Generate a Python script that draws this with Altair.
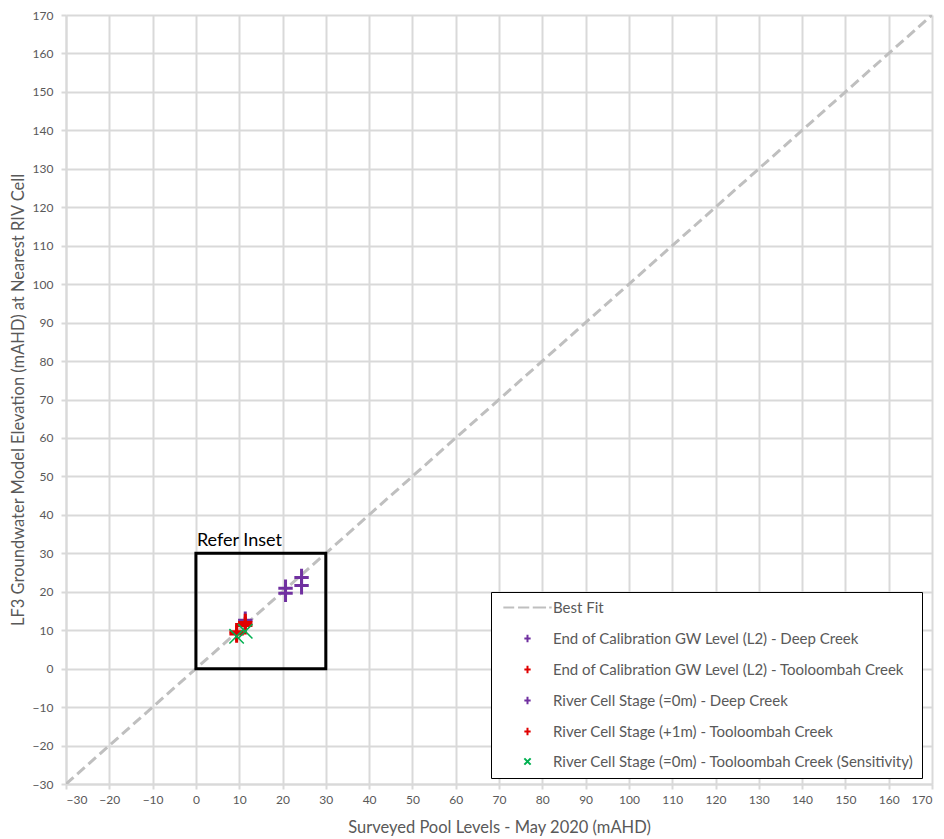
import altair as alt
import pandas as pd

# Series names, in legend order
series_names = [
    "Best Fit",
    "End of Calibration GW Level (L2) - Deep Creek",
    "End of Calibration GW Level (L2) - Tooloombah Creek",
    "River Cell Stage (=0m) - Deep Creek",
    "River Cell Stage (+1m) - Tooloombah Creek",
    "River Cell Stage (=0m) - Tooloombah Creek (Sensitivity)",
]
series_colors = ["#bfbfbf", "#7030a0", "#e00000", "#7030a0", "#e00000", "#00b050"]

# Observed (surveyed) vs modelled levels, mAHD
eoc_deep_x = [20.7, 24.4, 11.4]
eoc_deep_y = [20.9, 23.7, 12.6]
eoc_tool_x = [9.4, 11.4]
eoc_tool_y = [9.6, 12.0]
rcs_deep_x = [20.7, 24.4]
rcs_deep_y = [19.6, 21.6]
rcs_tool_x = [9.4, 11.4]
rcs_tool_y = [9.0, 11.2]
sens_tool_x = [9.4, 11.4]
sens_tool_y = [8.4, 9.7]

# 1:1 line and inset outline
best_fit_x = [-30, 170]
best_fit_y = [-30, 170]
inset_x = [0, 30]
inset_y = [0, 30]
inset_label = "Refer Inset"

axis_ticks = list(range(-30, 171, 10))

rows = []
for name, xs, ys in [
    (series_names[1], eoc_deep_x, eoc_deep_y),
    (series_names[2], eoc_tool_x, eoc_tool_y),
    (series_names[3], rcs_deep_x, rcs_deep_y),
    (series_names[4], rcs_tool_x, rcs_tool_y),
    (series_names[5], sens_tool_x, sens_tool_y),
]:
    for xv, yv in zip(xs, ys):
        rows.append({"series": name, "x": xv, "y": yv})
points = pd.DataFrame(rows)
points["order"] = range(len(points))
plus_points = points[points["series"] != series_names[5]]
x_points = points[points["series"] == series_names[5]]

line_df = pd.DataFrame({"x": best_fit_x, "y": best_fit_y})
inset_df = pd.DataFrame({"x": [inset_x[0]], "x2": [inset_x[1]],
                         "y": [inset_y[0]], "y2": [inset_y[1]],
                         "label": [inset_label]})

PLUS = "M-0.9,0L0.9,0M0,-1.1L0,1.1"
XMARK = "M-0.9,-0.9L0.9,0.9M-0.9,0.9L0.9,-0.9"
DASHES = "M-6.9,0L-3.8,0M-2.7,0L0.5,0M1.5,0L5.3,0M6.2,0L6.9,0"
series_shapes = [DASHES, PLUS, PLUS, PLUS, PLUS, XMARK]

x_scale = alt.Scale(domain=[-30, 170], nice=False, zero=False)
y_scale = alt.Scale(domain=[-30, 170], nice=False, zero=False)

x_axis = alt.Axis(title="Surveyed Pool Levels - May 2020 (mAHD)", values=axis_ticks,
                  labelOverlap=False)
y_axis = alt.Axis(title="LF3 Groundwater Model Elevation (mAHD) at Nearest RIV Cell",
                  values=axis_ticks, labelOverlap=False)

x_enc = alt.X("x:Q", scale=x_scale, axis=x_axis)
y_enc = alt.Y("y:Q", scale=y_scale, axis=y_axis)

best_fit = alt.Chart(line_df).mark_line(
    color="#bfbfbf", strokeWidth=3, strokeDash=[10, 5], clip=True
).encode(x=x_enc, y=y_enc)

inset_box = alt.Chart(inset_df).mark_rect(
    filled=False, stroke="black", strokeWidth=3
).encode(x=x_enc, x2="x2:Q", y=y_enc, y2="y2:Q")

inset_text = alt.Chart(inset_df).mark_text(
    align="left", baseline="bottom", dx=1, dy=-3, fontSize=18,
    font="Lato", color="black"
).encode(x=x_enc, y=alt.Y("y2:Q", scale=y_scale, axis=y_axis), text="label:N")

legend = alt.Legend(
    title=None, orient="none", legendX=425, legendY=577,
    strokeColor="black", fillColor="white", padding=8,
    symbolSize=49, symbolOffset=21, labelOffset=18, symbolStrokeWidth=2,
    rowPadding=14, labelFontSize=15, labelFont="Lato",
    labelColor="#595959", symbolFillColor="transparent",
    labelLimit=500,
)

color_enc = alt.Color("series:N", scale=alt.Scale(domain=series_names, range=series_colors),
                      legend=legend)
shape_enc = alt.Shape("series:N", scale=alt.Scale(domain=series_names, range=series_shapes),
                      legend=legend)

plus_marks = alt.Chart(plus_points).mark_point(
    filled=False, size=256, opacity=1, strokeWidth=3
).encode(x=x_enc, y=y_enc, color=color_enc, shape=shape_enc, order="order:Q")

x_marks = alt.Chart(x_points).mark_point(
    filled=False, size=256, opacity=1, strokeWidth=1.5
).encode(x=x_enc, y=y_enc, color=color_enc, shape=shape_enc, order="order:Q")

chart = alt.layer(best_fit, inset_box, inset_text, plus_marks, x_marks).properties(
    width=866, height=769,
    autosize=alt.AutoSizeParams(type="none"),
    padding={"left": 66, "top": 15, "right": 12, "bottom": 55},
).configure_view(strokeWidth=0).configure_axis(
    gridColor="#d9d9d9", gridWidth=2,
    domainColor="#d9d9d9", domainWidth=2,
    tickColor="#d9d9d9", tickWidth=2, tickSize=5,
    labelFont="Lato", labelFontSize=12, labelColor="#595959",
    labelOverlap=False,
    titleFont="Lato", titleFontSize=16.5, titleColor="#595959", titleFontWeight="normal",
).configure_axisX(labelPadding=5, titlePadding=14).configure_axisY(
    labelPadding=8, titlePadding=6, labelOverlap=False
)

chart.save("out.html", embed_options={"renderer": "svg", "actions": False})
